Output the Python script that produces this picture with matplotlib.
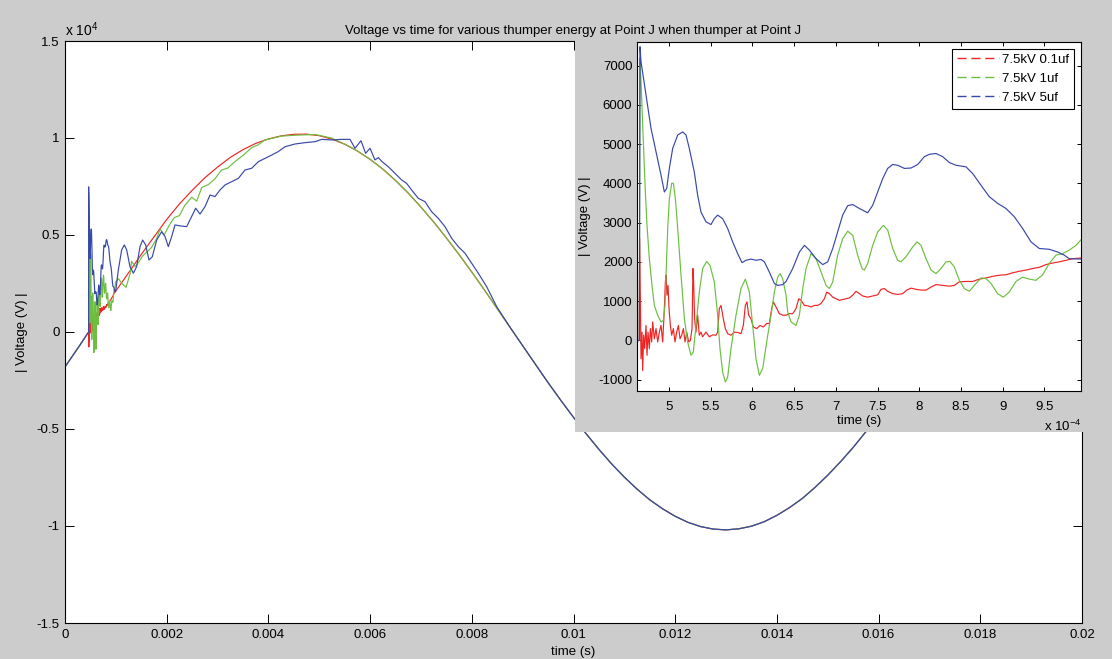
import numpy as np
import matplotlib
matplotlib.use("Agg")
import matplotlib.pyplot as plt
from matplotlib.lines import Line2D
from matplotlib.ticker import FuncFormatter

plt.rcParams["font.family"] = ["Liberation Sans", "DejaVu Sans"]
plt.rcParams["mathtext.fontset"] = "custom"
plt.rcParams["mathtext.rm"] = "Liberation Sans"
plt.rcParams["mathtext.default"] = "regular"

# ---- data, time in ms, voltage in V ----
# common part before the thumper fires
pre_t = [0.0, 0.1, 0.2, 0.3, 0.4, 0.4644]
pre_v = [-1800, -1420, -1030, -650, -260, 0]

# common 60 Hz wave after the transients
base_t = [1.25, 1.5, 1.75, 2.0, 2.25, 2.5, 2.75, 3.0, 3.25, 3.5, 3.75, 4.0, 4.25,
          4.5, 4.75, 5.0, 5.25, 5.5, 5.75, 6.0, 6.25, 6.5, 6.75, 7.0, 7.25, 7.5,
          7.75, 8.0, 8.25, 8.5, 8.75, 9.0, 9.25, 9.5, 9.75, 10.0, 10.25, 10.5,
          10.75, 11.0, 11.25, 11.5, 11.75, 12.0, 12.25, 12.5, 12.75, 13.0, 13.25,
          13.5, 13.75, 14.0, 14.25, 14.5, 14.75, 15.0, 15.25, 15.5, 15.75, 16.0,
          16.25, 16.5]
base_v = [3050, 4000, 4900, 5800, 6600, 7300, 7950, 8500, 9000, 9400, 9720, 9950,
          10110, 10190, 10200, 10120, 9940, 9680, 9330, 8900, 8400, 7810, 7160,
          6440, 5670, 4850, 3990, 3090, 2160, 1210, 250, -710, -1660, -2610, -3520,
          -4400, -5250, -6050, -6800, -7480, -8100, -8650, -9110, -9500, -9810,
          -10030, -10160, -10200, -10145, -10010, -9780, -9450, -9050, -8580,
          -8010, -7380, -6690, -5950, -5140, -4300, -3400, -2470]

# 7.5kV 0.1uf
red_t = [0.4648, 0.4664, 0.4676, 0.4684, 0.4696, 0.4708, 0.4724, 0.4736, 0.4748,
         0.4764, 0.4776, 0.4792, 0.4804, 0.4824, 0.4844, 0.4864, 0.4884, 0.4904,
         0.4924, 0.4944, 0.4956, 0.4964, 0.4976, 0.4988, 0.5000, 0.5016, 0.5032,
         0.5052, 0.5072, 0.5092, 0.5112, 0.5132, 0.5152, 0.5172, 0.5192, 0.5212,
         0.5236, 0.5256, 0.5276, 0.5287, 0.5295, 0.5307, 0.5323, 0.5343, 0.5363,
         0.5383, 0.5403, 0.5443, 0.5483, 0.5523, 0.5563, 0.5583, 0.5603, 0.5623,
         0.5651, 0.5675, 0.5703, 0.5743, 0.5783, 0.5823, 0.5863, 0.5891, 0.5915,
         0.5935, 0.5955, 0.5983, 0.6011, 0.6051, 0.6091, 0.6131, 0.6171, 0.6203,
         0.6231, 0.6251, 0.6283, 0.6323, 0.6363, 0.6403, 0.6443, 0.6483, 0.6523,
         0.6555, 0.6583, 0.6623, 0.6663, 0.6703, 0.6743, 0.6783, 0.6823, 0.6863,
         0.6891, 0.6923, 0.6963, 0.7003, 0.7042, 0.7102, 0.7162, 0.7202, 0.7242,
         0.7282, 0.7322, 0.7382, 0.7442, 0.7502, 0.7542, 0.7582, 0.7622, 0.7682,
         0.7742, 0.7802, 0.7850, 0.7902, 0.7962, 0.8022, 0.8082, 0.8142, 0.8202,
         0.8281, 0.8361, 0.8421, 0.8481, 0.8561, 0.8641, 0.8721, 0.8801, 0.8880,
         0.8960, 0.9040, 0.9120, 0.9200, 0.9280, 0.9360, 0.9440, 0.9520, 0.9600,
         0.9680, 0.9760, 0.9840, 0.9952]
red_v = [2600, -470, 210, -770, 130, -210, 380, -380, 210, -210, 300, -40, 470,
         40, 300, -40, 210, 380, -40, 810, 1490, 1660, 1150, 1400, 810, 380, 130,
         300, -40, 210, 380, 40, 130, 300, -40, 210, -40, 0, 300, 1830, 1490, 550,
         210, 640, 130, 210, 90, 210, 90, 140, 130, 210, 810, 890, 550, 300, 170,
         130, 210, 200, 170, 380, 890, 980, 640, 550, 340, 300, 380, 340, 430, 430,
         810, 980, 850, 680, 640, 640, 680, 680, 810, 1060, 1020, 890, 880, 850,
         890, 890, 940, 1060, 1230, 1190, 1100, 1060, 1020, 1050, 1080, 1150, 1250,
         1190, 1130, 1100, 1130, 1160, 1300, 1320, 1250, 1190, 1170, 1190, 1280,
         1330, 1300, 1280, 1280, 1360, 1420, 1400, 1380, 1400, 1490, 1500, 1500,
         1560, 1590, 1630, 1660, 1670, 1720, 1760, 1790, 1830, 1860, 1930, 1970,
         2000, 2040, 2080, 2100]

# 7.5kV 1uf
green_t = [0.4652, 0.4664, 0.4676, 0.4692, 0.4716, 0.4736, 0.4764, 0.4796,
           0.4824, 0.4864, 0.4904, 0.4932, 0.4952, 0.4964, 0.4984, 0.5004, 0.5032,
           0.5052, 0.5076, 0.5104, 0.5144, 0.5184, 0.5223, 0.5263, 0.5291, 0.5323,
           0.5363, 0.5403, 0.5451, 0.5491, 0.5543, 0.5583, 0.5611, 0.5643, 0.5675,
           0.5703, 0.5743, 0.5803, 0.5863, 0.5915, 0.5963, 0.6003, 0.6043, 0.6083,
           0.6123, 0.6171, 0.6223, 0.6263, 0.6303, 0.6331, 0.6363, 0.6403, 0.6423,
           0.6463, 0.6523, 0.6563, 0.6603, 0.6643, 0.6703, 0.6763, 0.6823, 0.6883,
           0.6923, 0.6963, 0.7022, 0.7082, 0.7142, 0.7202, 0.7262, 0.7314, 0.7342,
           0.7382, 0.7442, 0.7502, 0.7570, 0.7622, 0.7682, 0.7742, 0.7782, 0.7842,
           0.7922, 0.7974, 0.8022, 0.8082, 0.8142, 0.8202, 0.8261, 0.8321, 0.8369,
           0.8421, 0.8481, 0.8541, 0.8601, 0.8661, 0.8741, 0.8801, 0.8860, 0.8940,
           0.9008, 0.9080, 0.9160, 0.9240, 0.9320, 0.9400, 0.9480, 0.9560, 0.9640,
           0.9720, 0.9800, 0.9880, 0.9952,
           1.05, 1.12, 1.20, 1.28, 1.31, 1.38, 1.45, 1.52, 1.60, 1.70, 1.80, 1.87,
           1.95, 2.05, 2.15, 2.25, 2.35, 2.49, 2.59, 2.69, 2.82, 2.95, 3.08, 3.20,
           3.35, 3.50, 3.67, 3.80, 3.93, 4.10, 4.26, 4.59, 4.92, 5.24, 5.57]
green_v = [7200, 6600, 5910, 5060, 3780, 2930, 2080, 1400, 890, 640, 470, 510, 890,
           1660, 2850, 3610, 4000, 4000, 3610, 2850, 1660, 550, -40, -380, -300,
           380, 1230, 1830, 2010, 1910, 1490, 640, -210, -810, -1060, -940, -210,
           640, 1320, 1560, 1230, 380, -470, -890, -720, -40, 640, 1230, 1610, 1700,
           1570, 1150, 720, 470, 380, 640, 1320, 1830, 2210, 2080, 1740, 1400, 1320,
           1490, 2170, 2590, 2780, 2680, 2170, 1830, 1790, 1960, 2420, 2760, 2930,
           2810, 2340, 2040, 2000, 2130, 2380, 2510, 2420, 2080, 1790, 1700, 1830,
           2000, 2010, 1870, 1530, 1320, 1250, 1400, 1590, 1570, 1450, 1190, 1100,
           1230, 1500, 1610, 1560, 1530, 1670, 1960, 2170, 2210, 2300, 2420, 2590,
           2750, 2500, 2300, 3000, 3650, 3370, 3600, 3900, 4100, 4350, 4800, 5300,
           5000, 5500, 5900, 6000, 6500, 6950, 6750, 7450, 7600, 7900, 8350, 8450,
           8800, 9100, 9500, 9650, 9900, 10000, 10100, 10150, 10180, 10000, 9600]

# 7.5kV 5uf
blue_t = [0.4652, 0.4664, 0.4724, 0.4784, 0.4844, 0.4904, 0.4944, 0.4972, 0.5004,
          0.5044, 0.5104, 0.5164, 0.5204, 0.5243, 0.5303, 0.5343, 0.5383, 0.5443,
          0.5503, 0.5543, 0.5583, 0.5643, 0.5703, 0.5763, 0.5823, 0.5875, 0.5923,
          0.5983, 0.6043, 0.6103, 0.6143, 0.6203, 0.6263, 0.6303, 0.6363, 0.6403,
          0.6483, 0.6563, 0.6623, 0.6683, 0.6763, 0.6843, 0.6903, 0.6963, 0.7022,
          0.7082, 0.7142, 0.7202, 0.7282, 0.7382, 0.7442, 0.7502, 0.7562, 0.7622,
          0.7682, 0.7742, 0.7822, 0.7902, 0.7982, 0.8062, 0.8122, 0.8202, 0.8281,
          0.8361, 0.8441, 0.8561, 0.8641, 0.8741, 0.8840, 0.8940, 0.9040, 0.9140,
          0.9240, 0.9340, 0.9440, 0.9560, 0.9660, 0.9740, 0.9800, 0.9952,
          1.049, 1.114, 1.167, 1.213, 1.278, 1.344, 1.409, 1.475, 1.527, 1.586,
          1.652, 1.717, 1.803, 1.901, 1.967, 2.032, 2.098, 2.163, 2.262, 2.393,
          2.491, 2.570, 2.655, 2.753, 2.852, 2.950, 3.048, 3.147, 3.278, 3.409,
          3.540, 3.671, 3.802, 3.933, 4.064, 4.195, 4.326, 4.523, 4.720, 4.916,
          5.048, 5.244, 5.441, 5.604, 5.703, 5.821, 5.912, 5.998, 6.096, 6.163,
          6.227, 6.358, 6.489, 6.620, 6.719, 6.817, 6.948, 7.079, 7.210, 7.341,
          7.473, 7.604, 7.735, 7.866, 7.997, 8.128, 8.292, 8.489]
blue_v = [7480, 7100, 6250, 5400, 4800, 4210, 3780, 3870, 4380, 4890, 5230, 5310,
          5230, 4890, 4290, 3700, 3270, 3020, 2950, 3100, 3190, 3100, 2850, 2510,
          2210, 1980, 2040, 2070, 2040, 2060, 2000, 1740, 1450, 1400, 1420, 1500,
          1830, 2250, 2420, 2300, 2080, 1930, 2000, 2340, 2760, 3190, 3430, 3460,
          3360, 3250, 3440, 3780, 4120, 4380, 4480, 4460, 4380, 4390, 4480, 4680,
          4740, 4760, 4680, 4530, 4460, 4420, 4250, 3950, 3660, 3490, 3360, 3150,
          2850, 2510, 2340, 2320, 2250, 2170, 2080, 2070,
          3200, 4230, 4490, 4230, 3370, 3030, 3370, 4400, 4740, 4490, 3710, 3880,
          4740, 5170, 4920, 4400, 4920, 5520, 5470, 5430, 5950, 6380, 6080, 6460,
          7060, 6980, 7320, 7580, 7750, 7920, 8350, 8440, 8780, 8950, 9120, 9300,
          9550, 9690, 9760, 9810, 9930, 9900, 9930, 9930, 9470, 9860, 9210, 9470,
          8870, 8990, 8800, 8520, 8180, 7840, 7660, 7320, 6890, 6720, 6200, 5860,
          5430, 4830, 4400, 4060, 3540, 3030, 2340, 1310]

labels = ["7.5kV 0.1uf", "7.5kV 1uf", "7.5kV 5uf"]
colors = ["#f02424", "#6cbf40", "#3848a8"]

base_t = np.array(base_t)
base_v = np.array(base_v)
series = [
    (pre_t + red_t + list(base_t), pre_v + red_v + list(base_v)),
    (pre_t + green_t + list(base_t[base_t >= 5.75]), pre_v + green_v + list(base_v[base_t >= 5.75])),
    (pre_t + blue_t + list(base_t[base_t >= 8.75]), pre_v + blue_v + list(base_v[base_t >= 8.75])),
]

W, H = 1112, 659
fig = plt.figure(figsize=(W / 100, H / 100), dpi=100, facecolor="#cccccc")

# main axes
ax = fig.add_axes([65 / W, 1 - 623 / H, 1017 / W, 582 / H], zorder=1)
for (t, v), c in zip(series, colors):
    ax.plot(np.array(t) * 1e-3, v, color=c, lw=0.85)
ax.set_xlim(0, 0.02)
ax.set_ylim(-15000, 15000)
ax.set_xticks(np.arange(0, 0.0201, 0.002))
ax.set_yticks(np.arange(-15000, 15001, 5000))
ax.xaxis.set_major_formatter(FuncFormatter(lambda x, p: "%g" % round(x, 4)))
ax.yaxis.set_major_formatter(FuncFormatter(lambda y, p: "%g" % (y / 1e4)))
ax.tick_params(direction="in", top=True, right=True, length=6.5, width=0.7,
               labelsize=9.5, pad=4)
for s in ax.spines.values():
    s.set_linewidth(0.8)
ax.set_title("Voltage vs time for various thumper energy at Point J when thumper at Point J",
             fontsize=9.5, pad=5)
ax.set_xlabel("time (s)", fontsize=9.5)
ax.set_ylabel("| Voltage (V) |", fontsize=9.5)
ax.xaxis.set_label_coords(0.5, -0.04)
ax.yaxis.set_label_coords(-0.036, 0.5)
ax.text(0.0, 1.009, r"x 10$^{4}$", transform=ax.transAxes, ha="left",
        va="baseline", fontsize=10)

# grey panel behind the zoomed view
pan = fig.add_axes([575 / W, 1 - 432 / H, (1090 - 575) / W, (432 - 38) / H], zorder=2)
pan.set_facecolor("#cccccc")
pan.set_xticks([])
pan.set_yticks([])
for s in pan.spines.values():
    s.set_visible(False)

# zoomed view
ins = fig.add_axes([636.5 / W, 1 - 391 / H, 444.5 / W, 349 / H], zorder=3)
for (t, v), c in zip(series, colors):
    ins.plot(np.array(t) * 1e-3, v, color=c, lw=0.85)
ins.set_xlim(4.61e-4, 9.94e-4)
ins.set_ylim(-1290, 7600)
ins.set_xticks(np.arange(5e-4, 9.51e-4, 0.5e-4))
ins.set_yticks(np.arange(-1000, 7001, 1000))
ins.xaxis.set_major_formatter(FuncFormatter(lambda x, p: "%g" % round(x * 1e4, 3)))
ins.yaxis.set_major_formatter(FuncFormatter(lambda y, p: "%d" % y))
ins.tick_params(direction="in", top=True, right=True, length=3.2, width=0.7,
                labelsize=9.5)
ins.tick_params(axis="x", pad=7)
ins.tick_params(axis="y", pad=3)
for s in ins.spines.values():
    s.set_linewidth(0.8)
ins.set_xlabel("time (s)", fontsize=9.5)
ins.set_ylabel("| Voltage (V) |", fontsize=9.5)
ins.xaxis.set_label_coords(0.5, -0.07)
ins.yaxis.set_label_coords(-0.102, 0.5)
ins.text(1.0, -0.115, r"x 10$^{-4}$", transform=ins.transAxes, ha="right",
         va="baseline", fontsize=9.5)

handles = [Line2D([], [], color=c, lw=1.0, ls=(0, (6.5, 3.5))) for c in colors]
leg = ins.legend(handles, labels, loc="upper right", fontsize=9.5, fancybox=False,
                 edgecolor="black", framealpha=1, handlelength=3.2,
                 handletextpad=0.2, labelspacing=0.5, borderpad=0.4,
                 borderaxespad=0.5)
leg.get_frame().set_linewidth(0.8)

fig.savefig("out.png", dpi=100, facecolor=fig.get_facecolor())
